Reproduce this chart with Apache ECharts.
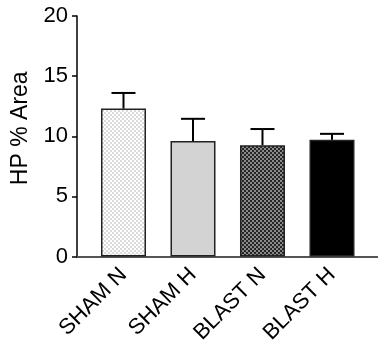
<!DOCTYPE html>
<html>
<head>
<meta charset="utf-8">
<script src="https://cdn.jsdelivr.net/npm/echarts@6/dist/echarts.min.js"></script>
<style>html,body{margin:0;padding:0;background:#fff}#c{width:378px;height:358px}</style>
</head>
<body>
<div id="c"></div>
<script>
var categories = ['SHAM N', 'SHAM H', 'BLAST N', 'BLAST H'];
var means = [12.3, 9.6, 9.25, 9.7];
var sems = [1.3, 1.85, 1.35, 0.5];
var yTicks = [0, 5, 10, 15, 20];

function checker(a, b, cell) {
  var c = document.createElement('canvas');
  c.width = cell * 2; c.height = cell * 2;
  var g = c.getContext('2d');
  g.fillStyle = a; g.fillRect(0, 0, cell * 2, cell * 2);
  g.fillStyle = b; g.fillRect(0, 0, cell, cell); g.fillRect(cell, cell, cell, cell);
  return {image: c, repeat: 'repeat'};
}
var fills = [checker('#ffffff', '#dadada', 2), '#d3d3d3', checker('#262626', '#8a8a8a', 2), '#000000'];

var barData = categories.map(function (c, i) {
  return {value: [i, means[i]], itemStyle: {color: fills[i]}};
});
var errData = categories.map(function (c, i) { return [i, means[i], means[i] + sems[i]]; });
var FONT = 'Liberation Sans, Arial, sans-serif';

var chart = echarts.init(document.getElementById('c'), null, {renderer: 'canvas'});
chart.setOption({
  animation: false,
  grid: {left: 77, right: 0, top: 16, bottom: 101.5},
  xAxis: {
    type: 'value', min: -0.669, max: 3.662,
    splitLine: {show: false},
    axisLine: {show: true, onZero: false, lineStyle: {color: '#555', width: 2}},
    axisTick: {show: false},
    axisLabel: {
      customValues: [0, 1, 2, 3],
      formatter: function (v) { return categories[Math.round(v)] || ''; },
      rotate: 45, fontSize: 22, color: '#000', fontFamily: FONT, margin: 15
    }
  },
  yAxis: {
    type: 'value', min: 0, max: 20, interval: 5,
    name: 'HP % Area', nameLocation: 'middle', nameGap: 42,
    nameTextStyle: {fontSize: 23, color: '#000', fontFamily: FONT, padding: [0, 0, 0, 16]},
    splitLine: {show: false},
    axisLine: {show: true, onZero: false, lineStyle: {color: '#000', width: 1.5}},
    axisTick: {show: true, length: 5, lineStyle: {color: '#000', width: 1.5}},
    axisLabel: {fontSize: 22, color: '#000', fontFamily: FONT, margin: 9}
  },
  series: [
    {
      type: 'bar', data: barData, barWidth: 45,
      itemStyle: {borderColor: '#222', borderWidth: 1.5},
      z: 2
    },
    {
      type: 'custom', data: errData, z: 3,
      renderItem: function (params, api) {
        var x = api.value(0);
        var top = api.coord([x, api.value(2)]);
        var base = api.coord([x, api.value(1)]);
        var style = {stroke: '#000', lineWidth: 2};
        return {type: 'group', children: [
          {type: 'line', shape: {x1: top[0], y1: top[1], x2: base[0], y2: base[1]}, style: style},
          {type: 'line', shape: {x1: top[0] - 12, y1: top[1], x2: top[0] + 12, y2: top[1]}, style: style}
        ]};
      }
    }
  ]
});
</script>
</body>
</html>
